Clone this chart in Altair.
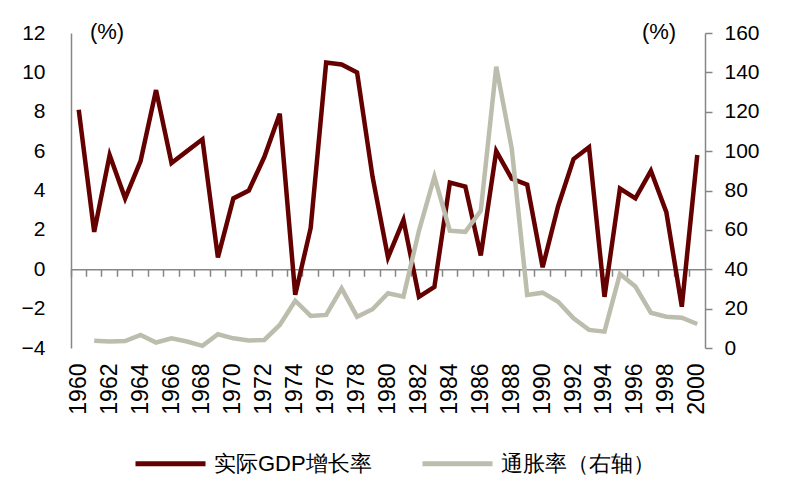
import altair as alt
import pandas as pd

years = [str(y) for y in range(1960, 2001)]
gdp = [8.1, 1.9, 5.8, 3.6, 5.5, 9.1, 5.4, 6.0, 6.6, 0.6,
       3.6, 4.0, 5.7, 7.9, -1.3, 2.1, 10.5, 10.4, 10.0, 4.7,
       0.6, 2.5, -1.4, -0.9, 4.4, 4.2, 0.7, 6.0, 4.6, 4.3,
       0.1, 3.2, 5.6, 6.2, -1.4, 4.1, 3.6, 5.0, 2.9, -1.9,
       5.8]
infl = [None, 3.7, 3.3, 3.5, 6.6, 2.8, 4.9, 3.3, 1.1, 7.0,
        4.9, 3.8, 4.1, 11.7, 24.0, 16.3, 16.8, 30.3, 15.9, 19.7,
        27.8, 26.1, 59.5, 87.0, 59.6, 59.0, 69.7, 142.9, 101.4, 26.9,
        28.1, 23.5, 15.1, 9.2, 8.3, 37.6, 31.2, 17.9, 15.9, 15.4,
        12.2]
series_names = ["实际GDP增长率", "通胀率（右轴）"]
colors = ["#640000", "#bdbdad"]
left_ticks = [-4, -2, 0, 2, 4, 6, 8, 10, 12]
right_ticks = [0, 20, 40, 60, 80, 100, 120, 140, 160]
year_labels = years[::2]
unit_label = "(%)"

df_gdp = pd.DataFrame({"year": years, "value": gdp, "series": series_names[0]})
df_inf = pd.DataFrame({"year": years, "value": infl, "series": series_names[1]}).dropna()

FONT = "Liberation Sans"
AXC = "#868686"
W, H = 634, 315

xscale = alt.Scale(type="band", domain=years, paddingInner=0, paddingOuter=0)
color = alt.Color(
    "series:N",
    scale=alt.Scale(domain=series_names, range=colors),
    legend=alt.Legend(
        title=None, orient="none", legendX=62, legendY=393, direction="horizontal",
        symbolType="stroke", symbolSize=4900, symbolStrokeWidth=5,
        labelFontSize=22, labelFont=FONT, labelColor="black",
        columnPadding=40, labelOffset=6,
    ),
)

gdp_line = alt.Chart(df_gdp).mark_line(strokeWidth=4.5).encode(
    x=alt.X("year:O", scale=xscale, bandPosition=0.5,
            axis=alt.Axis(values=year_labels, labelAngle=270, labelAlign="right",
                          labelBaseline="middle", labelPadding=15, ticks=False,
                          domain=False, title=None, labelFontSize=23, labelFont=FONT,
                          labelColor="black", labelOverlap=False)),
    y=alt.Y("value:Q", scale=alt.Scale(domain=[-4, 12], nice=False, zero=False),
            axis=alt.Axis(orient="left", values=left_ticks, ticks=False, labelPadding=26,
                          domainColor=AXC, domainWidth=1.5, grid=False, title=None,
                          labelFontSize=21, labelFont=FONT, labelColor="black")),
    color=color,
)

inf_line = alt.Chart(df_inf).mark_line(strokeWidth=4.5).encode(
    x=alt.X("year:O", scale=xscale, bandPosition=0.5,
            axis=alt.Axis(orient="bottom", offset=-78.75, labels=False, ticks=True,
                          tickSize=7, bandPosition=0, domain=True, domainColor=AXC,
                          tickColor=AXC, domainWidth=1.5, tickWidth=1.5, title=None,
                          grid=False)),
    y=alt.Y("value:Q", scale=alt.Scale(domain=[0, 160], nice=False),
            axis=alt.Axis(orient="right", values=right_ticks, tickSize=7, labelPadding=12,
                          domainColor=AXC, tickColor=AXC, domainWidth=1.5, tickWidth=1.5,
                          grid=False, title=None, labelFontSize=21, labelFont=FONT,
                          labelColor="black")),
    color=color,
)

txt_df = pd.DataFrame({"t": [unit_label]})
left_unit = alt.Chart(txt_df).mark_text(font=FONT, fontSize=22, color="black",
                                        align="center", baseline="middle").encode(
    x=alt.value(36), y=alt.value(-1), text="t:N")
right_unit = alt.Chart(txt_df).mark_text(font=FONT, fontSize=22, color="black",
                                         align="center", baseline="middle").encode(
    x=alt.value(588), y=alt.value(-1), text="t:N")

chart = alt.layer(gdp_line, inf_line, left_unit, right_unit).resolve_scale(
    y="independent"
).resolve_axis(x="independent").properties(
    width=W, height=H,
    padding={"left": 63, "top": 25, "right": 60, "bottom": 130},
    autosize=alt.AutoSizeParams(type="none"),
).configure_view(stroke=None)

chart.save("out.html", embed_options={"renderer": "svg", "actions": False})
